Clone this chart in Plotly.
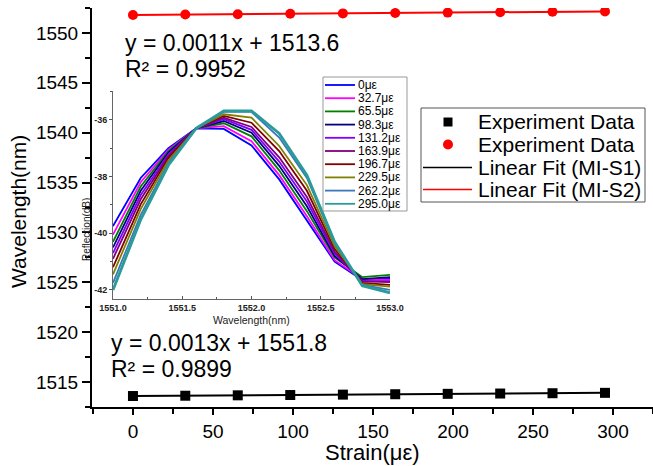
import numpy as np
import plotly.graph_objects as go

# ---- data -------------------------------------------------------------
strain = [0, 32.7, 65.5, 98.3, 131.2, 163.9, 196.7, 229.5, 262.2, 295.0]
wl_s1 = [1513.60, 1513.63, 1513.67, 1513.70, 1513.74,
         1513.78, 1513.82, 1513.85, 1513.88, 1513.92]
wl_s2 = [1551.80, 1551.84, 1551.88, 1551.92, 1551.96,
         1552.00, 1552.04, 1552.08, 1552.12, 1552.16]

fit_eq_top = "y = 0.0011x + 1513.6"
fit_r2_top = "R² = 0.9952"
fit_eq_bot = "y = 0.0013x + 1551.8"
fit_r2_bot = "R² = 0.9899"

# reflection spectra for each strain level (inset)
spec_wl = [1551.0, 1551.2, 1551.4, 1551.6, 1551.8, 1552.0,
           1552.2, 1552.4, 1552.6, 1552.8, 1553.0]
spec_labels = ["0με", "32.7με", "65.5με", "98.3με", "131.2με",
               "163.9με", "196.7με", "229.5με", "262.2με", "295.0με"]
spec_0 = [-39.75, -38.05, -37.00, -36.30, -36.32, -36.90, -38.10, -39.55, -41.00, -41.65, -41.58]
spec_1 = [-40.05, -38.20, -37.05, -36.30, -36.22, -36.75, -37.95, -39.40, -40.95, -41.62, -41.65]
spec_2 = [-40.30, -38.35, -37.10, -36.30, -36.12, -36.58, -37.78, -39.22, -40.85, -41.55, -41.47]
spec_3 = [-40.50, -38.50, -37.15, -36.30, -36.04, -36.45, -37.62, -39.05, -40.80, -41.62, -41.55]
spec_4 = [-40.70, -38.65, -37.22, -36.30, -35.97, -36.35, -37.47, -38.88, -40.72, -41.68, -41.70]
spec_5 = [-40.90, -38.80, -37.28, -36.30, -35.92, -36.25, -37.32, -38.72, -40.65, -41.70, -41.72]
spec_6 = [-41.20, -38.98, -37.35, -36.30, -35.86, -36.10, -37.10, -38.50, -40.55, -41.75, -41.82]
spec_7 = [-41.45, -39.15, -37.43, -36.30, -35.80, -35.92, -36.92, -38.30, -40.45, -41.80, -41.88]
spec_8 = [-41.75, -39.35, -37.52, -36.30, -35.72, -35.72, -36.62, -38.05, -40.35, -41.82, -42.00]
spec_9 = [-42.00, -39.52, -37.60, -36.30, -35.68, -35.68, -36.48, -37.95, -40.30, -41.85, -42.10]
spectra = [spec_0, spec_1, spec_2, spec_3, spec_4, spec_5, spec_6, spec_7, spec_8, spec_9]
spec_colors = ["#0000FF", "#FF00FF", "#008000", "#000080", "#8000FF",
               "#800080", "#800000", "#808000", "#3A78B8", "#2A9A9A"]

# ---- figure geometry (pixels) ------------------------------------------
W, H = 653, 466
FONT = "Liberation Sans, Arial, sans-serif"


def fx(px):
    return px / W


def fy(py):
    return 1 - py / H


fig = go.Figure()

# main data: markers + linear fits
xs = np.array(strain)
for ys, col, sym in [(wl_s1, "black", "square"), (wl_s2, "red", "circle")]:
    k, b = np.polyfit(xs, np.array(ys), 1)
    fig.add_trace(go.Scatter(x=xs, y=k * xs + b, mode="lines",
                             line=dict(color=col, width=2),
                             showlegend=False, xaxis="x", yaxis="y"))
    fig.add_trace(go.Scatter(x=strain, y=ys, mode="markers",
                             marker=dict(symbol=sym, size=10, color=col),
                             showlegend=False, xaxis="x", yaxis="y"))

# inset spectra
for i, sp in enumerate(spectra):
    fig.add_trace(go.Scatter(x=spec_wl, y=sp, mode="lines",
                             line=dict(color=spec_colors[i],
                                       width=2.8 if i == len(spectra) - 1 else 1.8),
                             showlegend=False, xaxis="x2", yaxis="y2"))

main_tick_font = dict(family=FONT, size=19, color="black")
inset_tick_font = dict(family=FONT, size=9, color="#222", weight="bold")

fig.update_layout(
    width=W, height=H,
    margin=dict(l=0, r=0, t=0, b=0, pad=0, autoexpand=False),
    paper_bgcolor="white", plot_bgcolor="white",
    showlegend=False,
    xaxis=dict(domain=[fx(92), 1.0], range=[-25.6, 325], anchor="y",
               automargin=False,
               tickmode="linear", tick0=0, dtick=50,
               ticks="outside", ticklen=6, tickwidth=1.5, tickcolor="black",
               minor=dict(dtick=25, ticks="outside", ticklen=5, tickwidth=1.5,
                          tickcolor="black"),
               showline=True, linecolor="black", linewidth=2,
               showgrid=False, zeroline=False, tickfont=main_tick_font),
    yaxis=dict(domain=[fy(407), fy(8)], range=[1512.5, 1552.5], anchor="x",
               automargin=False,
               tickmode="linear", tick0=1515, dtick=5,
               ticks="outside", ticklen=8, tickwidth=1.5, tickcolor="black",
               minor=dict(dtick=2.5, ticks="outside", ticklen=5, tickwidth=1.5,
                          tickcolor="black"),
               showline=True, linecolor="black", linewidth=2,
               showgrid=False, zeroline=False, tickfont=main_tick_font),
    xaxis2=dict(domain=[fx(113), fx(390)], range=[1551.0, 1553.0], anchor="y2",
                automargin=False,
                tickmode="linear", tick0=1551.0, dtick=0.5, tickformat=".1f",
                ticks="inside", ticklen=3, tickwidth=1, tickcolor="#555",
                minor=dict(dtick=0.25, ticks="inside", ticklen=2, tickcolor="#555"),
                showline=True, linecolor="#666", linewidth=1,
                showgrid=False, zeroline=False, tickfont=inset_tick_font),
    yaxis2=dict(domain=[fy(299), fy(91)], range=[-42.32, -34.98], anchor="x2",
                automargin=False,
                tickvals=[-42, -40, -38, -36],
                ticktext=[f"{v:d}" for v in [-42, -40, -38, -36]],
                ticks="outside", ticklen=3, tickwidth=1, tickcolor="#555",
                minor=dict(dtick=1, ticks="outside", ticklen=2, tickcolor="#555"),
                showline=True, linecolor="#666", linewidth=1,
                showgrid=False, zeroline=False, tickfont=inset_tick_font),
)

annotations = []
shapes = []


def text(px, py, s, size, xanchor="left", angle=0, color="black"):
    annotations.append(dict(x=fx(px), y=fy(py), xref="paper", yref="paper",
                            text=s, showarrow=False, xanchor=xanchor,
                            yanchor="middle", textangle=angle, borderpad=0,
                            font=dict(family=FONT, size=size, color=color)))


# axis titles
text(18, 212, "Wavelength(nm)", 21, xanchor="center", angle=-90)
text(372, 452, "Strain(με)", 22, xanchor="center")
text(86, 230, "Reflection(dB)", 10, xanchor="center", angle=-90, color="#222")
text(251.5, 320, "Wavelength(nm)", 10.5, xanchor="center", color="#222")

# fit equations
text(124, 43, fit_eq_top, 23)
text(124, 69, fit_r2_top, 23)
text(110, 343, fit_eq_bot, 23)
text(110, 369, fit_r2_bot, 23)

# main legend box
shapes.append(dict(type="rect", xref="paper", yref="paper",
                   x0=fx(421), x1=fx(645), y0=fy(202), y1=fy(108),
                   line=dict(color="#555", width=1), fillcolor="white",
                   layer="above"))
shapes.append(dict(type="rect", xref="paper", yref="paper",
                   x0=fx(443.5), x1=fx(452.5), y0=fy(126.5), y1=fy(117.5),
                   line=dict(width=0), fillcolor="black", layer="above"))
shapes.append(dict(type="circle", xref="paper", yref="paper",
                   x0=fx(443), x1=fx(453), y0=fy(149.5), y1=fy(139.5),
                   line=dict(width=0), fillcolor="red", layer="above"))
for py, col in [(167.5, "black"), (189.5, "red")]:
    shapes.append(dict(type="line", xref="paper", yref="paper",
                       x0=fx(423), x1=fx(472), y0=fy(py), y1=fy(py),
                       line=dict(color=col, width=1.5), layer="above"))
leg_main = ["Experiment Data", "Experiment Data",
            "Linear Fit (MI-S1)", "Linear Fit (MI-S2)"]
for lbl, py in zip(leg_main, [122, 144.5, 167.5, 189.5]):
    text(477, py, lbl, 21)

# inset legend
shapes.append(dict(type="rect", xref="paper", yref="paper",
                   x0=fx(323), x1=fx(407), y0=fy(211), y1=fy(77),
                   line=dict(color="#999", width=1), fillcolor="white",
                   layer="above"))
for i, lbl in enumerate(spec_labels):
    py = 85 + 13.2 * i
    shapes.append(dict(type="line", xref="paper", yref="paper",
                       x0=fx(325), x1=fx(355), y0=fy(py), y1=fy(py),
                       line=dict(color=spec_colors[i], width=1.8), layer="above"))
    text(357, py, lbl, 12)

fig.update_layout(annotations=annotations, shapes=shapes)

fig.write_html("out.html")
